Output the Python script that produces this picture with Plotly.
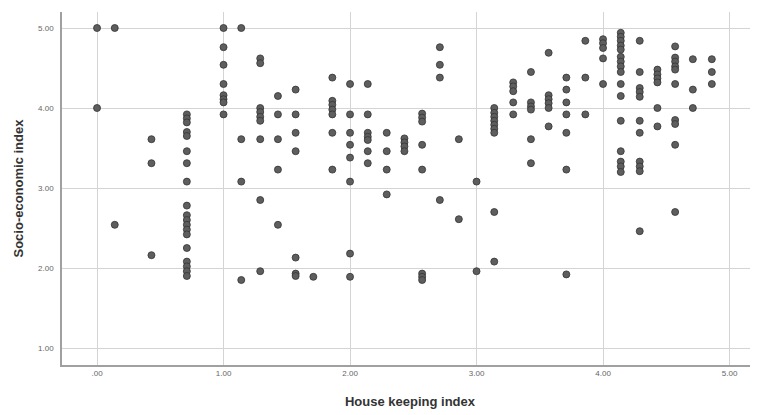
import plotly.graph_objects as go

# Data (x in sevenths, y socio-economic index)
columns = {
    0.00: [5.00, 4.00],
    0.14: [5.00, 2.54],
    0.43: [3.61, 3.31, 2.16],
    0.71: [3.92, 3.87, 3.82, 3.70, 3.65, 3.46, 3.31, 3.08, 2.78, 2.66, 2.60, 2.54,
           2.48, 2.42, 2.25, 2.08, 2.02, 1.96, 1.90],
    1.00: [5.00, 4.76, 4.54, 4.30, 4.16, 4.11, 4.07, 3.92],
    1.14: [5.00, 3.61, 3.08, 1.85],
    1.29: [4.62, 4.56, 4.00, 3.95, 3.89, 3.84, 3.61, 2.85, 1.96],
    1.43: [4.15, 3.92, 3.61, 3.23, 2.54],
    1.57: [4.23, 3.92, 3.69, 3.46, 2.13, 1.93, 1.90],
    1.71: [1.89],
    1.86: [4.38, 4.09, 4.04, 3.98, 3.92, 3.69, 3.23],
    2.00: [4.30, 3.92, 3.69, 3.54, 3.38, 3.08, 2.18, 1.89],
    2.14: [4.30, 3.92, 3.69, 3.64, 3.60, 3.46, 3.31],
    2.29: [3.69, 3.46, 3.23, 2.92],
    2.43: [3.62, 3.57, 3.52, 3.46],
    2.57: [3.93, 3.88, 3.83, 3.54, 3.23, 1.93, 1.89, 1.85],
    2.71: [4.76, 4.54, 4.38, 2.85],
    2.86: [3.61, 2.61],
    3.00: [3.08, 1.96],
    3.14: [4.00, 3.94, 3.89, 3.84, 3.79, 3.74, 3.69, 2.70, 2.08],
    3.29: [4.32, 4.27, 4.21, 4.07, 3.92],
    3.43: [4.45, 4.07, 4.02, 3.98, 3.61, 3.31],
    3.57: [4.69, 4.16, 4.11, 4.06, 4.00, 3.77],
    3.71: [4.38, 4.23, 4.07, 3.92, 3.69, 3.23, 1.92],
    3.86: [4.84, 4.38, 3.92],
    4.00: [4.86, 4.81, 4.75, 4.62, 4.30],
    4.14: [4.94, 4.89, 4.84, 4.78, 4.73, 4.64, 4.58, 4.52, 4.45, 4.30, 4.15, 3.84,
           3.46, 3.33, 3.27, 3.20],
    4.29: [4.84, 4.45, 4.25, 4.20, 4.14, 3.84, 3.69, 3.33, 3.27, 3.21, 2.46],
    4.43: [4.48, 4.42, 4.37, 4.32, 4.00, 3.77],
    4.57: [4.77, 4.63, 4.58, 4.52, 4.48, 4.30, 3.85, 3.80, 3.54, 2.70],
    4.71: [4.61, 4.23, 4.00],
    4.86: [4.61, 4.45, 4.30],
}

house_keeping = [x for x, ys in columns.items() for _ in ys]
socio_economic = [y for ys in columns.values() for y in ys]

x_tickvals = [0, 1, 2, 3, 4, 5]
x_ticktext = [".00", "1.00", "2.00", "3.00", "4.00", "5.00"]
y_tickvals = [1, 2, 3, 4, 5]
y_ticktext = ["1.00", "2.00", "3.00", "4.00", "5.00"]
x_title = "House keeping index"
y_title = "Socio-economic index"

fig = go.Figure()
fig.add_trace(go.Scatter(
    x=house_keeping, y=socio_economic, mode="markers",
    marker=dict(size=7, color="#5e5e5e", line=dict(color="#333333", width=0.8)),
    showlegend=False,
))

# page body has an 8px margin, so the figure is 750x407 and offsets are shifted by 8
fig.update_layout(
    width=750, height=407,
    margin=dict(l=54, r=0, t=4, b=50, autoexpand=False),
    paper_bgcolor="white", plot_bgcolor="white",
    font=dict(family="Liberation Sans, Arial, sans-serif", color="#333333"),
)
fig.update_xaxes(
    range=[-0.277, 5.225], tickvals=x_tickvals, ticktext=x_ticktext,
    tickfont=dict(size=8, color="#666666"),
    showgrid=True, gridcolor="#d4d4d4", gridwidth=1, zeroline=False,
    showline=True, linecolor="#a0a0a0", linewidth=1.5, ticks="",
    title=dict(text=f"<b>{x_title}</b>", font=dict(size=13, color="#333333"), standoff=20),
)
fig.update_yaxes(
    range=[0.7875, 5.2], tickvals=y_tickvals, ticktext=y_ticktext,
    tickfont=dict(size=8, color="#666666"),
    showgrid=True, gridcolor="#d4d4d4", gridwidth=1, zeroline=False,
    showline=True, linecolor="#a0a0a0", linewidth=1.5, ticks="",
    ticklabelstandoff=5,
)
fig.add_annotation(
    text=f"<b>{y_title}</b>", textangle=-90, showarrow=False,
    xref="paper", yref="paper", x=-0.0632, y=0.5, xanchor="center", yanchor="middle",
    font=dict(size=13, color="#333333"),
)

fig.write_html("out.html")
